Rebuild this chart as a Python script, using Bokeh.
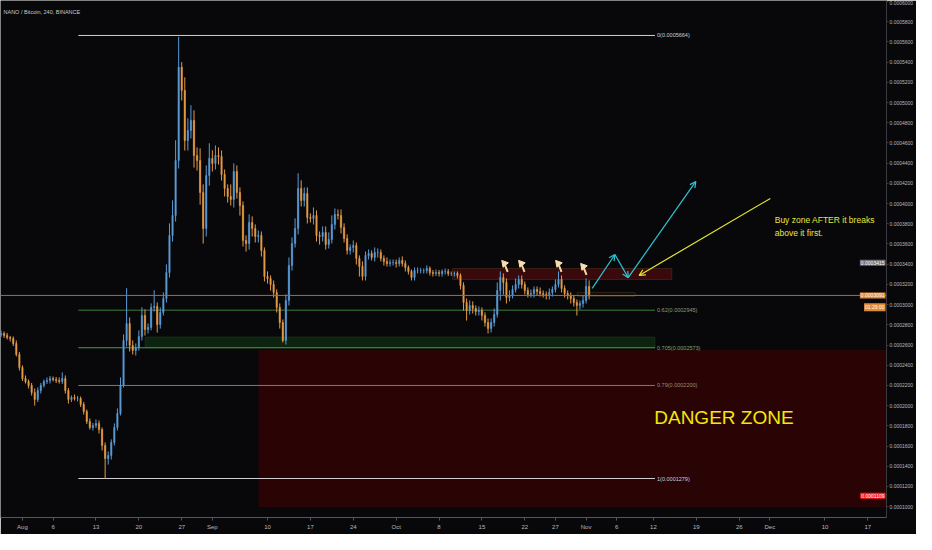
import datetime as dt
from bokeh.plotting import figure
from bokeh.models import (Range1d, LinearAxis, DatetimeAxis, FixedTicker, Label,
                          BoxAnnotation, Arrow, OpenHead, PrintfTickFormatter, Span,
                          ColumnDataSource)
from bokeh.embed import file_html
from bokeh.resources import INLINE

FONT = "Liberation Sans"
BG = "#08080b"
UP = "#5b9bd5"
DOWN = "#e59a45"
EPOCH = dt.datetime(1970, 1, 1)


def ms(d):
    if isinstance(d, str):
        d = dt.datetime.fromisoformat(d)
    return (d - EPOCH).total_seconds() * 1000.0


# ---------------- data (prices in units of 1e-7 BTC) ----------------
first_candle = "2018-07-28T12:00"
candle_hours = 12
first_open = 2700
closes = [
    2714, 2695, 2675, 2665, 2615, 2507, 2378, 2269, 2239, 2200,
    2130, 2061, 2150, 2200, 2239, 2249, 2269, 2259, 2249, 2239,
    2269, 2150, 2061, 2081, 2071, 2071, 2012, 1942, 1843, 1784,
    1804, 1824, 1764, 1606, 1477, 1507, 1636, 1784, 1923, 2200,
    2645, 2813, 2596, 2546, 2576, 2685, 2893, 2754, 2774, 2972,
    2982, 2803, 2922, 3061, 3318, 3684, 3882, 4427, 5350, 5120,
    4625, 4724, 4823, 4476, 4427, 4110, 3754, 4278, 4447, 4397,
    4476, 4466, 4288, 4150, 4070, 4041, 4318, 4110, 3981, 3635,
    3605, 3813, 3754, 3675, 3684, 3536, 3279, 3259, 3199, 3120,
    2972, 2823, 2645, 3041, 3387, 3605, 3754, 4150, 4031, 4100,
    3863, 3853, 3882, 3684, 3675, 3714, 3595, 3645, 3793, 3892,
    3882, 3764, 3655, 3536, 3566, 3585, 3457, 3378, 3279, 3486,
    3506, 3467, 3516, 3516, 3457, 3427, 3407, 3417, 3417, 3407,
    3437, 3407, 3368, 3328, 3269, 3338, 3338, 3338, 3338, 3358,
    3318, 3308, 3318, 3308, 3328, 3328, 3308, 3308, 3308, 3289,
    3190, 3021, 2942, 2992, 2962, 2932, 2942, 2893, 2823, 2764,
    2823, 2902, 3140, 3269, 3219, 3071, 3091, 3150, 3199, 3249,
    3199, 3140, 3100, 3110, 3150, 3130, 3110, 3100, 3091, 3120,
    3150, 3199, 3249, 3160, 3110, 3091, 3061, 3021, 2992, 3011,
    3041, 3180, 3091]
wick_up = [
    30, 20, 25, 15, 20, 30, 25, 20, 30, 20,
    25, 40, 30, 25, 20, 30, 25, 20, 25, 30,
    60, 30, 25, 20, 30, 25, 20, 25, 20, 30,
    25, 40, 30, 20, 30, 40, 30, 40, 50, 80,
    60, 350, 60, 50, 40, 60, 80, 60, 40, 40,
    160, 40, 50, 60, 80, 120, 150, 200, 300, 50,
    130, 120, 150, 100, 80, 120, 80, 100, 150, 80,
    100, 80, 60, 50, 40, 120, 80, 60, 50, 40,
    50, 80, 60, 40, 50, 40, 30, 50, 30, 40,
    30, 40, 30, 60, 80, 60, 100, 150, 80, 60,
    60, 40, 80, 50, 40, 60, 60, 70, 90, 60,
    50, 60, 40, 40, 30, 50, 30, 30, 50, 40,
    40, 30, 50, 40, 30, 30, 40, 30, 30, 30,
    30, 40, 30, 20, 20, 30, 30, 25, 20, 30,
    20, 25, 30, 25, 20, 30, 25, 20, 20, 20,
    20, 30, 40, 50, 40, 30, 40, 30, 30, 40,
    40, 60, 80, 60, 40, 40, 50, 40, 60, 40,
    40, 30, 30, 40, 30, 30, 40, 30, 30, 40,
    30, 50, 80, 40, 30, 30, 30, 30, 30, 30,
    50, 80, 60]
wick_dn = [
    20, 25, 20, 30, 25, 20, 30, 25, 20, 30,
    30, 60, 25, 30, 20, 25, 30, 20, 25, 20,
    25, 30, 40, 25, 20, 30, 25, 30, 25, 20,
    30, 25, 40, 50, 200, 60, 40, 30, 30, 20,
    20, 60, 60, 40, 50, 30, 40, 60, 40, 30,
    40, 80, 40, 30, 40, 50, 60, 60, 80, 100,
    100, 100, 80, 120, 100, 120, 150, 80, 100, 80,
    60, 80, 60, 80, 60, 60, 80, 60, 100, 60,
    80, 60, 80, 60, 60, 60, 50, 50, 60, 50,
    50, 60, 20, 40, 50, 50, 40, 60, 60, 60,
    60, 40, 60, 60, 80, 50, 50, 40, 40, 50,
    40, 60, 40, 40, 40, 50, 60, 100, 40, 40,
    40, 30, 40, 50, 30, 40, 30, 30, 30, 40,
    30, 30, 40, 30, 30, 30, 30, 30, 30, 30,
    30, 30, 25, 30, 30, 30, 25, 25, 30, 30,
    40, 80, 100, 40, 50, 40, 40, 50, 40, 50,
    40, 40, 30, 100, 120, 60, 40, 30, 30, 40,
    40, 40, 30, 30, 40, 40, 30, 30, 40, 40,
    40, 30, 30, 40, 40, 40, 50, 40, 100, 40,
    40, 30, 40]

tick_dates = ["2018-08-01", "2018-08-06", "2018-08-13", "2018-08-20", "2018-08-27",
              "2018-09-01", "2018-09-10", "2018-09-17", "2018-09-24", "2018-10-01",
              "2018-10-08", "2018-10-15", "2018-10-22", "2018-10-27", "2018-11-01",
              "2018-11-06", "2018-11-12", "2018-11-19", "2018-11-26", "2018-12-01",
              "2018-12-10", "2018-12-17"]
tick_labels = ["Aug", "6", "13", "20", "27", "Sep", "10", "17", "24", "Oct", "8", "15",
               "22", "27", "Nov", "6", "12", "19", "26", "Dec", "10", "17"]
price_ticks = [0.0001, 0.00012, 0.00014, 0.00016, 0.00018, 0.0002, 0.00022,
               0.00024, 0.00026, 0.00028, 0.0003, 0.00032, 0.00034, 0.00036, 0.00038,
               0.0004, 0.00042, 0.00044, 0.00046, 0.00048, 0.0005, 0.00052, 0.00054,
               0.00056, 0.00058, 0.0006]

fib_levels = [0.0005664, 0.0002945, 0.0002573, 0.00022, 0.0001279]
fib_texts = ["0(0.0005664)", "0.62(0.0002945)", "0.705(0.0002573)", "0.79(0.0002200)",
             "1(0.0001279)"]
fib_colors = ["#cfcfcf", "#3f7f3a", "#45a03c", "#8c7c5c", "#cfcfcf"]
fib_text_colors = ["#d0d0d0", "#8e9c78", "#7aa86a", "#a08e6c", "#d0d0d0"]
fib_start = "2018-08-10T03:00"
fib_end = "2018-11-12T06:00"
fib_label_x = "2018-11-12T14:00"

current_price = 0.0003091
icon_dates = ["2018-10-18T16:00", "2018-10-21T10:00", "2018-10-27T11:00", "2018-10-31T13:00"]
icon_prices = [0.0003407, 0.0003407, 0.0003407, 0.0003377]

cyan_x = ["2018-11-02T00:00", "2018-11-05T17:00", "2018-11-07T21:00", "2018-11-18T22:00"]
cyan_y = [0.000316, 0.0003496, 0.0003267, 0.0004219]
yellow_from = ("2018-12-01T02:00", 0.0004051)
yellow_to = ("2018-11-09T16:00", 0.0003289)

# ---------------- candles ----------------
t0 = dt.datetime.fromisoformat(first_candle)
times = [t0 + dt.timedelta(hours=candle_hours * k) for k in range(len(closes))]
opens = [first_open] + closes[:-1]
S = 1e-7
src = ColumnDataSource(dict(
    t=times,
    o=[v * S for v in opens],
    c=[v * S for v in closes],
    h=[(max(o, c) + w) * S for o, c, w in zip(opens, closes, wick_up)],
    l=[(min(o, c) - w) * S for o, c, w in zip(opens, closes, wick_dn)],
    col=[UP if c >= o else DOWN for o, c in zip(opens, closes)],
))

x0 = ms("2018-08-01") - 3.583 * 86400000
x1 = ms("2018-08-01") + 141.04 * 86400000
y0, y1 = 0.0000893, 0.0006010
p = figure(width=916, height=534, x_range=Range1d(x0, x1), y_range=Range1d(y0, y1),
           x_axis_type=None, y_axis_type=None, output_backend="svg",
           toolbar_location=None, background_fill_color=BG, border_fill_color=BG,
           min_border_left=0, min_border_top=0, min_border_right=28, min_border_bottom=17)
p.outline_line_color = None

# axes
yaxis = LinearAxis(ticker=FixedTicker(ticks=price_ticks, minor_ticks=[]),
                   formatter=PrintfTickFormatter(format="%.7f"))
yaxis.axis_line_color = "#3a3a40"
yaxis.major_tick_line_color = "#3a3a40"
yaxis.major_tick_out = 2
yaxis.major_tick_in = 0
yaxis.minor_tick_line_color = None
yaxis.major_label_standoff = 1
yaxis.major_label_text_color = "#b8b8bc"
yaxis.major_label_text_font = FONT
yaxis.major_label_text_font_size = "5px"
p.add_layout(yaxis, "right")

tick_ms = [ms(d) for d in tick_dates]
xaxis = DatetimeAxis(ticker=FixedTicker(ticks=tick_ms, minor_ticks=[]))
xaxis.major_label_overrides = {m: lab for m, lab in zip(tick_ms, tick_labels)}
xaxis.axis_line_color = "#55555c"
xaxis.major_tick_line_color = "#55555c"
xaxis.major_tick_out = 3
xaxis.major_tick_in = 0
xaxis.minor_tick_line_color = None
xaxis.major_label_standoff = 3
xaxis.major_label_text_color = "#b8b8bc"
xaxis.major_label_text_font = FONT
xaxis.major_label_text_font_size = "6px"
p.add_layout(xaxis, "below")

# zones
p.add_layout(BoxAnnotation(left=ms("2018-09-08T14:00"), bottom=0.0001002, top=0.0002546,
                           fill_color="#2a0305", fill_alpha=1, line_color="#4a0c0c",
                           line_width=1, level="underlay"))
p.add_layout(BoxAnnotation(left=ms("2018-08-21T00:00"), right=ms(fib_end),
                           bottom=0.0002573, top=0.000268, fill_color="#0c240f",
                           fill_alpha=1, line_color="#275f27", line_width=1, level="underlay"))
p.add_layout(BoxAnnotation(left=ms("2018-10-10T05:00"), right=ms("2018-11-15T00:00"),
                           bottom=0.0003249, top=0.0003358, fill_color="#3a090c",
                           fill_alpha=1, line_color="#6e5f36", line_width=1, level="underlay"))
p.add_layout(BoxAnnotation(left=ms("2018-10-30T14:00"), right=ms("2018-11-09T00:00"),
                           bottom=0.0003083, top=0.0003118, fill_alpha=0,
                           line_color="#9a6a2a", line_width=1, level="underlay"))

# fib levels
p.segment(x0=[ms(fib_start)] * len(fib_levels), x1=[ms(fib_end)] * len(fib_levels),
          y0=fib_levels, y1=fib_levels, line_color=fib_colors, line_width=1)
for lv, txt, tc in zip(fib_levels, fib_texts, fib_text_colors):
    p.add_layout(Label(x=ms(fib_label_x), y=lv, text=txt, text_color=tc,
                       text_font=FONT, text_font_size="5.5px", text_baseline="middle",
                       text_align="left"))

# current price line
p.add_layout(Span(location=current_price, dimension="width", line_color="#b8672e",
                  line_width=1))

# candles
p.segment(x0="t", x1="t", y0="h", y1="l", line_color="col", line_width=1, source=src)
p.vbar(x="t", width=candle_hours * 3600000 * 0.45, top="o", bottom="c",
       fill_color="col", line_color="col", line_width=0.5, source=src)

# icons over peaks
p.ray(x=[ms(d) for d in icon_dates], y=icon_prices, length=9, length_units="screen",
      angle=-1.2, line_color="#f4d9a8", line_width=2)
p.scatter(x=[ms(d) for d in icon_dates], y=icon_prices, marker="triangle", size=7,
          angle=0.7, fill_color="#f7dfb2", line_color="#f7dfb2")

# cyan projection arrows
for i in range(len(cyan_x) - 1):
    p.add_layout(Arrow(end=OpenHead(size=6, line_color="#2cc4d4", line_width=1.2),
                       x_start=ms(cyan_x[i]), y_start=cyan_y[i],
                       x_end=ms(cyan_x[i + 1]), y_end=cyan_y[i + 1],
                       line_color="#2cc4d4", line_width=1.2))
# yellow arrow
p.add_layout(Arrow(end=OpenHead(size=6, line_color="#e6e632", line_width=1.2),
                   x_start=ms(yellow_from[0]), y_start=yellow_from[1],
                   x_end=ms(yellow_to[0]), y_end=yellow_to[1],
                   line_color="#e6e632", line_width=1.2))

p.add_layout(Label(x=ms("2018-12-01T19:00"), y=0.0003833, text="Buy zone AFTER it breaks",
                   text_color="#e8e63a", text_font=FONT, text_font_size="8.5px",
                   text_baseline="middle"))
p.add_layout(Label(x=ms("2018-12-01T19:00"), y=0.0003704, text="above it first.",
                   text_color="#e8e63a", text_font=FONT, text_font_size="8.5px",
                   text_baseline="middle"))
p.add_layout(Label(x=ms("2018-11-23T12:00"), y=0.0001883, text="DANGER ZONE",
                   text_color="#f2e80a", text_font=FONT, text_font_size="19px",
                   text_baseline="middle", text_align="center"))

# title
p.add_layout(Label(x=x0, y=y1, text="NANO / Bitcoin, 240, BINANCE",
                   text_color="#c8c8cc", text_font=FONT, text_font_size="5.5px",
                   text_baseline="top", x_offset=3, y_offset=-8))

# price-axis highlight labels (drawn at the right edge of the plot area)
for price, txt, bg in [(0.0003415, "0.0003415", "#707076"),
                       (0.0003091, "0.0003091", "#e08a32"),
                       (0.0002975, "01:29:00", "#e08a32"),
                       (0.0001109, "0.0001109", "#ff1c1c")]:
    p.add_layout(Label(x=x1, y=price, text=txt, text_color="#ffffff",
                       text_font=FONT, text_font_size="5px", text_baseline="middle",
                       text_align="right", x_offset=-1, background_fill_color=bg,
                       padding=1))

open("out.html", "w").write(file_html(p, INLINE))
